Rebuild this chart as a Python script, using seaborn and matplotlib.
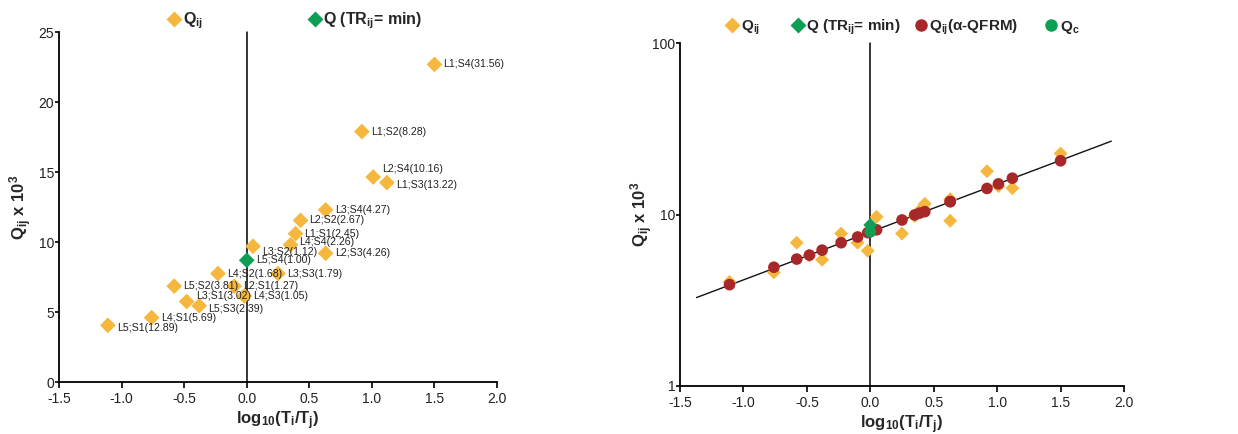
import pandas as pd
import matplotlib
matplotlib.use('Agg')
import matplotlib.pyplot as plt
import seaborn as sns
from matplotlib.lines import Line2D

# Pairs Li;Sj with their time ratio, log10(Ti/Tj) and Q values (x 10^3)
pairs = ['L1;S4', 'L1;S2', 'L2;S4', 'L1;S3', 'L3;S4', 'L2;S2', 'L1;S1', 'L4;S4', 'L2;S3', 'L3;S2',
         'L5;S4', 'L3;S3', 'L4;S2', 'L2;S1', 'L5;S2', 'L4;S3', 'L3;S1', 'L5;S3', 'L4;S1', 'L5;S1']
ratios = ['31.56', '8.28', '10.16', '13.22', '4.27', '2.67', '2.45', '2.26', '4.26', '1.12',
          '1.00', '1.79', '1.68', '1.27', '3.81', '1.05', '3.02', '2.39', '5.69', '12.89']
log_t = [1.50, 0.92, 1.01, 1.12, 0.63, 0.43, 0.39, 0.35, 0.63, 0.05,
         0.00, 0.25, -0.23, -0.10, -0.58, -0.02, -0.48, -0.38, -0.76, -1.11]
q_ij = [22.7, 17.9, 14.65, 14.25, 12.3, 11.55, 10.6, 9.8, 9.2, 9.7,
        8.7, 7.75, 7.75, 6.85, 6.85, 6.15, 5.75, 5.45, 4.6, 4.05]
q_qfrm = [20.6, 14.2, 15.1, 16.3, 11.9, 10.4, 10.2, 9.95, 11.9, 8.15,
          7.95, 9.3, 6.85, 7.4, 5.5, 7.85, 5.8, 6.2, 4.93, 3.9]
q_c = 7.95
fit_x = [-1.37, 1.90]
fit_q = [3.28, 26.8]

yellow = '#F5B73D'
green = '#0E9F55'
red = '#A8282A'

df = pd.DataFrame({'pair': pairs, 'ratio': ratios, 'x': log_t, 'q': q_ij, 'qf': q_qfrm})
df['label'] = df['pair'] + '(' + df['ratio'] + ')'
is_min = df['ratio'] == '1.00'

sns.set_style('ticks')
plt.rcParams['font.family'] = ['Liberation Sans', 'DejaVu Sans']
plt.rcParams['mathtext.fontset'] = 'custom'
plt.rcParams['mathtext.rm'] = 'Liberation Sans'
plt.rcParams['mathtext.bf'] = 'Liberation Sans:bold'
plt.rcParams['mathtext.it'] = 'Liberation Sans:italic'
plt.rcParams['axes.unicode_minus'] = False

fig = plt.figure(figsize=(12.38, 4.34), dpi=100)
ax1 = fig.add_axes([0.0477, 0.1198, 0.3538, 0.806])
ax2 = fig.add_axes([0.5493, 0.1106, 0.3586, 0.79])

# ---- left panel: linear scale with labels
sns.scatterplot(data=df[~is_min], x='x', y='q', marker='D', s=64, color=yellow,
                edgecolor='none', ax=ax1, legend=False, zorder=3)
sns.scatterplot(data=df[is_min], x='x', y='q', marker='D', s=64, color=green,
                edgecolor='none', ax=ax1, legend=False, zorder=4)

label_dy = {'L2;S4': 6, 'L3;S2': -4, 'L4;S4': 2, 'L3;S1': 4, 'L5;S3': -2, 'L5;S1': -2, 'L1;S3': -1.5}
for _, r in df.iterrows():
    ax1.annotate(r['label'], (r['x'], r['q']), xytext=(6.5, label_dy.get(r['pair'], 0)),
                 textcoords='offset points', va='center', ha='left', fontsize=7.6,
                 color='#222222', zorder=5)

ax1.set_xlim(-1.5, 2.0)
ax1.set_ylim(0, 25)
ax1.set_xticks([-1.5, -1.0, -0.5, 0.0, 0.5, 1.0, 1.5, 2.0])
ax1.set_xticklabels(['-1.5', '-1.0', '-0.5', '0.0', '0.5', '1.0', '1.5', '2.0'])
ax1.set_yticks([0, 5, 10, 15, 20, 25])

# ---- right panel: log scale with fitted line
sns.lineplot(x=fit_x, y=fit_q, color='#111111', linewidth=1.0, ax=ax2, zorder=2)
sns.scatterplot(data=df[~is_min], x='x', y='q', marker='D', s=50, color=yellow,
                edgecolor='none', ax=ax2, legend=False, zorder=3)
sns.scatterplot(data=df, x='x', y='qf', marker='o', s=70, color=red,
                edgecolor='none', ax=ax2, legend=False, zorder=4)
sns.scatterplot(data=df[is_min], x='x', y='q', marker='D', s=50, color=green,
                edgecolor='none', ax=ax2, legend=False, zorder=5)
sns.scatterplot(x=[0.0], y=[q_c], marker='o', s=70, color=green,
                edgecolor='none', ax=ax2, legend=False, zorder=6)

ax2.set_yscale('log')
ax2.set_xlim(-1.5, 2.0)
ax2.set_ylim(1, 100)
ax2.set_xticks([-1.5, -1.0, -0.5, 0.0, 0.5, 1.0, 1.5, 2.0])
ax2.set_xticklabels(['-1.5', '-1.0', '-0.5', '0.0', '0.5', '1.0', '1.5', '2.0'])
ax2.set_yticks([1, 10, 100])
ax2.set_yticklabels(['1', '10', '100'])
ax2.minorticks_off()

ylab = r'$\mathbf{Q_{ij}}$' + ' x 10' + r'$^\mathbf{3}$'
for ax in (ax1, ax2):
    ax.axvline(0, color='black', linewidth=1.1, zorder=1, clip_on=False)
    sns.despine(ax=ax)
    for s in ('left', 'bottom'):
        ax.spines[s].set_linewidth(1.3)
        ax.spines[s].set_color('black')
    ax.tick_params(axis='both', direction='out', length=4, width=1.2, labelsize=10,
                   colors='black', labelcolor='#222222')
    ax.tick_params(axis='y', length=3, pad=0.5)
    ax.set_xlabel(r'$\mathbf{log_{10}(T_i/T_j)}$', fontsize=12, labelpad=2)

ax1.set_ylabel(ylab, fontsize=12, fontweight='bold', labelpad=3)
ax2.set_ylabel(ylab, fontsize=12, fontweight='bold', labelpad=-2)


def handle(marker, color, size):
    return Line2D([], [], marker=marker, color=color, linestyle='none', markersize=size,
                  markeredgecolor='none')


ax1.legend([handle('D', yellow, 8), handle('D', green, 8)],
           [r'$\mathbf{Q_{ij}}$', r'Q (TR$_\mathbf{ij}$= min)'],
           loc='lower center', bbox_to_anchor=(0.537, 0.985), ncol=2, frameon=False,
           handletextpad=0.05, columnspacing=6.5, handlelength=1.0,
           prop={'weight': 'bold', 'size': 11.5}, borderaxespad=0)

ax2.legend([handle('D', yellow, 8), handle('D', green, 8), handle('o', red, 9),
            handle('o', green, 9)],
           [r'$\mathbf{Q_{ij}}$' + '     ', r'Q (TR$_\mathbf{ij}$= min)',
            r'Q$_\mathbf{ij}$(α-QFRM)' + '    ', r'$\mathbf{Q_c}$'],
           loc='lower center', bbox_to_anchor=(0.5, 1.0), ncol=4, frameon=False,
           handletextpad=0.05, columnspacing=0.8, handlelength=1.0,
           prop={'weight': 'bold', 'size': 11}, borderaxespad=0)

fig.savefig('out.png', dpi=100, facecolor='white')
